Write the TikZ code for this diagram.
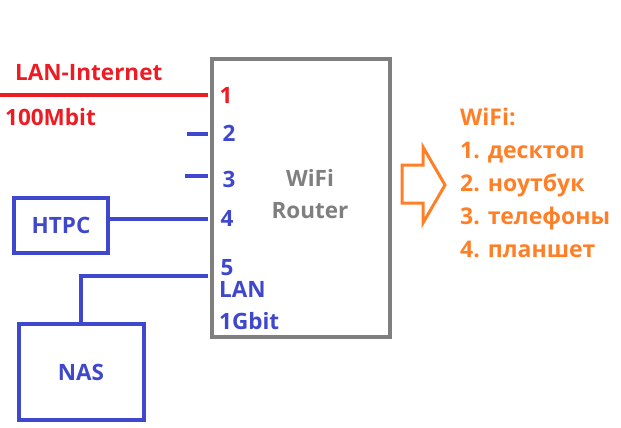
\documentclass[tikz,border=0pt]{standalone}
\usepackage{fontspec}
\setmainfont{Open Sans}
\usetikzlibrary{positioning}
\definecolor{NetRed}{HTML}{ED1C24}
\definecolor{NetBlue}{HTML}{3F48CC}
\definecolor{NetGray}{HTML}{7F7F7F}
\definecolor{NetOrange}{HTML}{FF7F27}

\begin{document}
\begin{tikzpicture}[x=1pt,y=-1pt,
  lbl/.style={font=\fontsize{22.5}{32}\selectfont\bfseries,inner sep=0pt},
  dev/.style={draw=NetBlue,line width=4pt,inner sep=0pt,text=NetBlue,lbl},
  wire/.style={line width=4pt}]
  \useasboundingbox (0,0) rectangle (621,428);
  % router box and its ports
  \node[draw=NetGray,line width=4pt,minimum width=178pt,minimum height=278pt] (router) at (301,198) {};
  \node[lbl,text=NetGray,align=center] (rtext) at (310,194) {WiFi\\Router};
  \foreach \n/\y in {1/95,2/134,3/176,4/219,5/276}
    \path (router.west |- 0,\y) ++(-2,0) coordinate (port\n);
  \node[lbl,text=NetRed] (n1) at (226,95) {1};
  \node[lbl,text=NetBlue] (n2) at (229,133) {2};
  \node[lbl,text=NetBlue] (n3) at (229,179) {3};
  \node[lbl,text=NetBlue] (n4) at (227,218) {4};
  \node[lbl,text=NetBlue] (n5) at (227,268) {5};
  \node[lbl,text=NetBlue,align=left,anchor=west] (lan) at (219,306) {LAN\\1Gbit};
  % internet uplink
  \node[lbl,text=NetRed,anchor=west] (inettxt) at (15,73) {LAN-Internet};
  \node[lbl,text=NetRed,anchor=west] (speed) at (5,117) {100Mbit};
  \coordinate (inet) at (0,95);
  \draw[wire,NetRed] (inet) -- (port1);
  % free LAN ports
  \coordinate (stub2) at (187,134);
  \coordinate (stub3) at (185,176);
  \draw[wire,NetBlue] (stub2) -- (port2);
  \draw[wire,NetBlue] (stub3) -- (port3);
  % wired devices
  \node[dev,minimum width=94pt,minimum height=55pt] (htpc) at (61,225) {HTPC};
  \node[dev,minimum width=125pt,minimum height=96pt] (nas) at (81,372) {NAS};
  \draw[wire,NetBlue] (htpc.east |- port4) -- (port4);
  \draw[wire,NetBlue] (port5) -| (nas.north);
  % wireless clients
  \draw[NetOrange,line width=3pt] (402,165) -- (423,165) -- (423,147) -- (445,185)
    -- (423,223) -- (423,203) -- (402,203) -- cycle;
  \node[lbl,text=NetOrange,align=left,anchor=west,font=\fontsize{23}{33}\selectfont\bfseries] (clients) at (460,183)
    {WiFi:\\1. десктоп\\2. ноутбук\\3. телефоны\\4. планшет};
\end{tikzpicture}
\end{document}
